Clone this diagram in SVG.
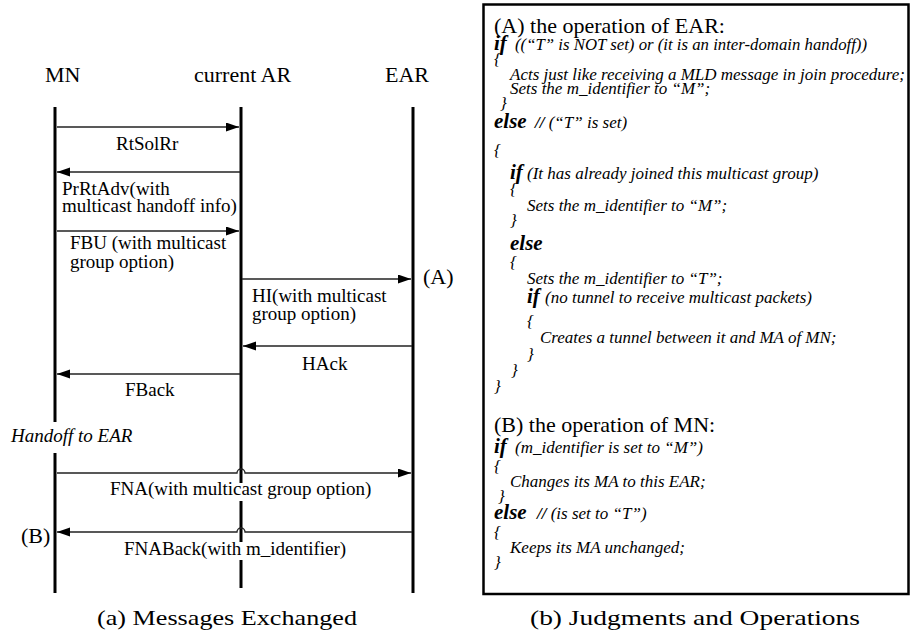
<svg xmlns="http://www.w3.org/2000/svg" width="910" height="634" viewBox="0 0 910 634">
<style>
.t{font-family:"Liberation Serif","Times New Roman",serif;fill:#000}
.lbl{font-size:22px}
.msg{font-size:19px}
.it{font-style:italic}
.kw{font-size:21px;font-weight:bold;font-style:italic}
.b{font-size:17px;font-style:italic}
.sl{font-weight:bold}
.h{font-size:22px}
.life{stroke:#000;stroke-width:3;fill:none}
.arr{stroke:#222;stroke-width:1.3;fill:none;marker-end:url(#ah)}
.cap{font-size:22px}
</style>
<defs>
<marker id="ah" markerUnits="userSpaceOnUse" markerWidth="14" markerHeight="10" refX="13" refY="4.5" orient="auto">
<path d="M0,0 L13,4.5 L0,9 z" fill="#000"/>
</marker>
</defs>
<g id="MN">
<text class="t lbl" x="45" y="82">MN</text>
<path class="life" d="M55,107 V422 M55,453 V593"/>
</g>
<g id="currentAR">
<text class="t lbl" x="194" y="82">current AR</text>
<path class="life" d="M241,107 V483 M241,501 V542 M241,560 V588"/>
</g>
<g id="EAR">
<text class="t lbl" x="385" y="82">EAR</text>
<path class="life" d="M413,107 V593"/>
</g>
<g id="connectors">
<path class="arr" d="M57,127 H239"/>
<path class="arr" d="M240,172 H57"/>
<path class="arr" d="M57,231 H239"/>
<path class="arr" d="M242,279 H411"/>
<path class="arr" d="M412,346 H243"/>
<path class="arr" d="M240,374 H57"/>
<path class="arr" d="M57,473 H237 A4,4 0 0 1 245,473 H411"/>
<path class="arr" d="M412,532 H245 A4,4 0 0 0 237,532 H57"/>
</g>
<g id="labels">
<text class="t msg" x="116" y="150">RtSolRr</text>
<text class="t msg" x="62" y="195">PrRtAdv(with</text>
<text class="t msg" x="62" y="212">multicast handoff info)</text>
<text class="t msg" x="70" y="249">FBU (with multicast</text>
<text class="t msg" x="70" y="268">group option)</text>
<text class="t msg" x="252" y="302">HI(with multicast</text>
<text class="t msg" x="252" y="320">group option)</text>
<text class="t msg" x="302" y="370">HAck</text>
<text class="t msg" x="125" y="396">FBack</text>
<text class="t msg it" x="11" y="442">Handoff to EAR</text>
<text class="t msg" x="110" y="495">FNA(with multicast group option)</text>
<text class="t msg" x="124" y="555">FNABack(with m_identifier)</text>
<text class="t lbl" x="423" y="284">(A)</text>
<text class="t lbl" x="21" y="543">(B)</text>
<text class="t cap" x="97" y="625" textLength="260" lengthAdjust="spacingAndGlyphs">(a) Messages Exchanged</text>
</g>
<g id="panelB">
<rect x="483.5" y="4.5" width="425" height="589.5" fill="none" stroke="#000" stroke-width="2.5"/>
<text class="t h" x="494" y="33">(A) the operation of EAR:</text>
<text class="t kw" x="494" y="50">if</text>
<text class="t b" x="515" y="50" textLength="352" lengthAdjust="spacingAndGlyphs">((“T” is NOT set) or (it is an inter-domain handoff))</text>
<text class="t b" x="494" y="65">{</text>
<text class="t b" x="510" y="80" textLength="395" lengthAdjust="spacingAndGlyphs">Acts just like receiving a MLD message in join procedure;</text>
<text class="t b" x="510" y="94">Sets the m_identifier to “M”;</text>
<text class="t b" x="500" y="109">}</text>
<text class="t kw" x="494" y="128">else</text>
<text class="t b" x="535" y="128"><tspan class="sl">//</tspan> (“T” is set)</text>
<text class="t b" x="494" y="156">{</text>
<text class="t kw" x="510" y="179">if</text>
<text class="t b" x="527" y="179">(It has already joined this multicast group)</text>
<text class="t b" x="510" y="195">{</text>
<text class="t b" x="527" y="211">Sets the m_identifier to “M”;</text>
<text class="t b" x="510" y="226">}</text>
<text class="t kw" x="510" y="250">else</text>
<text class="t b" x="510" y="268">{</text>
<text class="t b" x="527" y="284">Sets the m_identifier to “T”;</text>
<text class="t kw" x="527" y="303">if</text>
<text class="t b" x="545" y="303">(no tunnel to receive multicast packets)</text>
<text class="t b" x="527" y="327">{</text>
<text class="t b" x="540" y="343">Creates a tunnel between it and MA of MN;</text>
<text class="t b" x="527" y="360">}</text>
<text class="t b" x="511" y="376">}</text>
<text class="t b" x="494" y="392">}</text>
<text class="t h" x="494" y="432">(B) the operation of MN:</text>
<text class="t kw" x="494" y="453">if</text>
<text class="t b" x="515" y="453">(m_identifier is set to “M”)</text>
<text class="t b" x="494" y="472">{</text>
<text class="t b" x="510" y="487">Changes its MA to this EAR;</text>
<text class="t b" x="498" y="502">}</text>
<text class="t kw" x="494" y="519">else</text>
<text class="t b" x="537" y="519"><tspan class="sl">//</tspan> (is set to “T”)</text>
<text class="t b" x="494" y="538">{</text>
<text class="t b" x="510" y="553">Keeps its MA unchanged;</text>
<text class="t b" x="494" y="568">}</text>
<text class="t cap" x="530" y="625" textLength="330" lengthAdjust="spacingAndGlyphs">(b) Judgments and Operations</text>
</g>
</svg>
